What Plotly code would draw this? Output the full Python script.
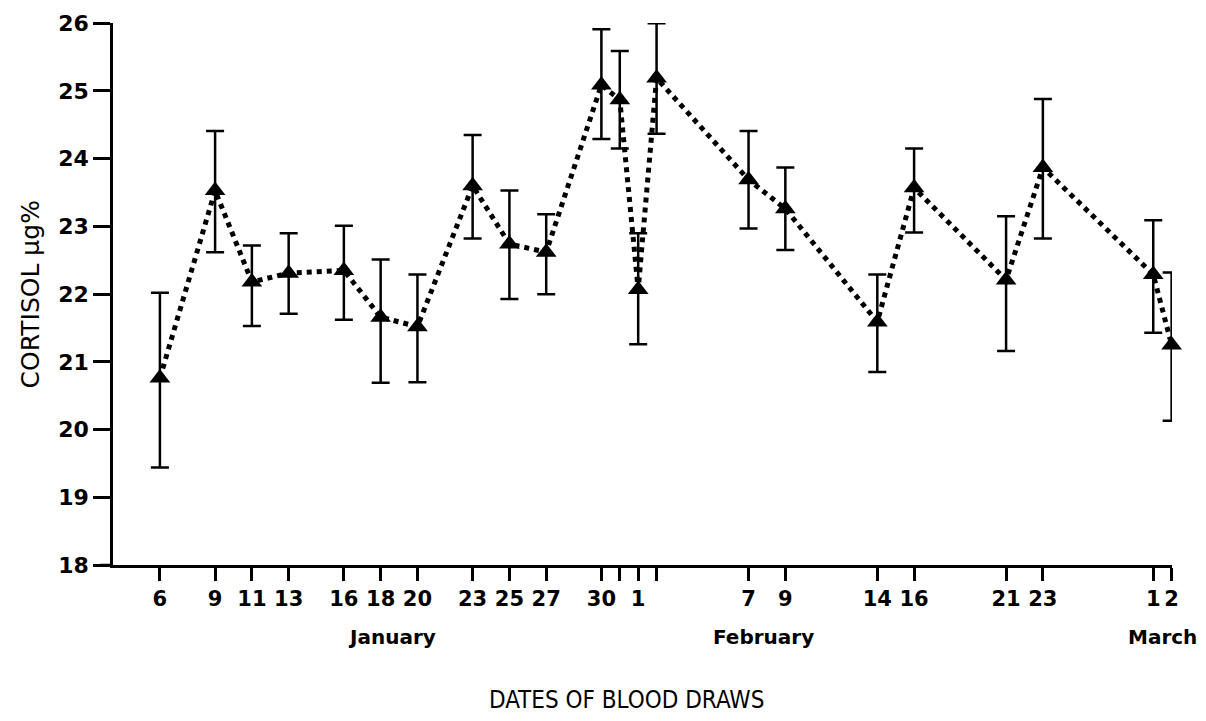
import plotly.graph_objects as go

# Day-of-year of each blood draw (Jan 6 = 6 ... Mar 2 = 61)
days = [6, 9, 11, 13, 16, 18, 20, 23, 25, 27, 30, 31, 32, 33, 38, 40, 45, 47, 52, 54, 60, 61]
cortisol = [20.76, 23.53, 22.18, 22.31, 22.35, 21.66, 21.52, 23.6, 22.74, 22.62, 25.09, 24.87,
            22.07, 25.19, 23.69, 23.26, 21.59, 23.57, 22.21, 23.87, 22.29, 21.25]
err_top = [22.02, 24.41, 22.72, 22.9, 23.01, 22.51, 22.29, 24.35, 23.53, 23.18, 25.91, 25.59,
           22.9, 26.0, 24.41, 23.87, 22.29, 24.15, 23.15, 24.88, 23.09, 22.32]
err_bottom = [19.44, 22.62, 21.53, 21.71, 21.62, 20.69, 20.7, 22.82, 21.93, 22.0, 24.29, 24.15,
              21.26, 24.37, 22.97, 22.65, 20.85, 22.91, 21.16, 22.82, 21.43, 20.13]

tick_days = [6, 9, 11, 13, 16, 18, 20, 23, 25, 27, 30, 31, 32, 33, 38, 40, 45, 47, 52, 54, 60, 61]
tick_text = ["6", "9", "11", "13", "16", "18", "20", "23", "25", "27", "30", "", "1", "",
             "7", "9", "14", "16", "21", "23", "1", "2"]
months = ["January", "February", "March"]
month_pos = [18.6, 38.8, 60.5]

y_ticks = [18, 19, 20, 21, 22, 23, 24, 25, 26]

plus = [t - m for t, m in zip(err_top, cortisol)]
minus = [m - b for m, b in zip(cortisol, err_bottom)]

fig = go.Figure()
fig.add_trace(go.Scatter(
    x=days, y=cortisol, mode="lines+markers", cliponaxis=False,
    line=dict(color="black", width=5, dash="5px,5px"),
    marker=dict(symbol="triangle-up", size=18, color="black"),
    error_y=dict(type="data", symmetric=False, array=plus, arrayminus=minus,
                 color="black", thickness=2.5, width=9),
    showlegend=False, hoverinfo="skip",
))

fig.update_layout(
    width=1190, height=705,
    margin=dict(l=105, r=26, t=15, b=148, autoexpand=False),
    paper_bgcolor="white", plot_bgcolor="white",
    font=dict(family="DejaVu Sans", color="black"),
    xaxis=dict(range=[3.45, 61.02], tickmode="array", tickvals=tick_days, ticktext=tick_text,
               showgrid=False, zeroline=False, showline=True, linecolor="black", linewidth=2.5,
               ticks="outside", ticklen=13, tickwidth=2.5, tickcolor="black", automargin=False,
               ticklabeloverflow="allow",
               tickfont=dict(family="DejaVu Sans", size=21, color="black", weight="bold"),
               tickangle=0),
    yaxis=dict(range=[18, 26.004], tickmode="array", tickvals=y_ticks,
               showgrid=False, zeroline=False, showline=True, linecolor="black", linewidth=2.5,
               ticks="outside", ticklen=17, tickwidth=2.5, tickcolor="black", automargin=False,
               ticklabeloverflow="allow",
               tickfont=dict(family="DejaVu Sans", size=22, color="black", weight="bold")),
)

for name, pos in zip(months, month_pos):
    fig.add_annotation(x=pos, y=-0.133, xref="x", yref="paper", text=name, showarrow=False,
                       font=dict(family="DejaVu Sans", size=20, color="black", weight="bold"),
                       yanchor="middle")

fig.add_annotation(x=0.485, y=-0.249, xref="paper", yref="paper", text="DATES OF BLOOD DRAWS",
                   showarrow=False, yanchor="middle",
                   font=dict(family="DejaVu Sans Condensed, DejaVu Sans", size=24, color="black"))
fig.add_annotation(x=-0.078, y=0.5, xref="paper", yref="paper", text="CORTISOL µg%",
                   showarrow=False, textangle=-90, xanchor="center", yanchor="middle",
                   font=dict(family="DejaVu Sans", size=25, color="black"))

fig.add_shape(type="line", xref="paper", yref="paper", x0=-0.012, x1=0, y0=0, y1=0,
              line=dict(color="black", width=2.5))

fig.write_html("out.html")
